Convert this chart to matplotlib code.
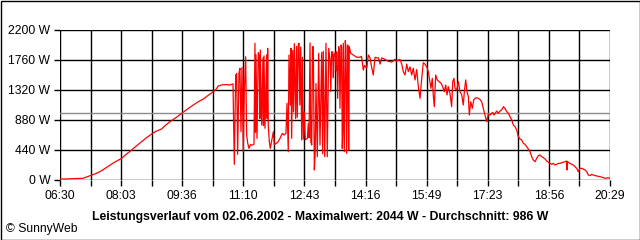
import numpy as np
import matplotlib
matplotlib.use("Agg")
import matplotlib.pyplot as plt
from matplotlib.patches import Rectangle

plt.rcParams["font.family"] = ["Liberation Sans", "DejaVu Sans"]

# time in minutes since midnight, power in W
minutes = [
    390.0, 397.6, 405.3, 412.9, 425.1, 435.8, 443.4, 451.0, 458.6, 466.3,
    473.9, 484.1, 490.7, 499.4, 505.9, 514.6, 521.2, 529.9, 536.4, 545.1,
    551.7, 557.8, 567.0, 575.6, 583.7, 593.3, 600.5, 608.6, 615.8, 623.9,
    628.0, 631.5, 637.1, 643.2, 649.3, 653.9,
    655.9, 658.0, 659.5, 661.0, 663.0, 664.5, 666.1, 667.6, 669.6, 671.1,
    673.2, 674.7, 676.3, 678.3, 680.6, 682.9, 685.9, 687.4, 688.2, 689.0, 690.5,
    692.5, 694.0, 694.8, 695.5, 697.7, 699.6, 700.4, 701.2, 702.7, 705.3, 706.0,
    706.8, 707.7,
    709.3, 710.8, 712.9, 715.4, 716.9, 719.0, 722.1, 725.6, 729.1, 731.7,
    734.7, 736.3, 738.2, 739.3, 741.3, 742.4, 743.4, 745.0, 746.2, 747.4,
    749.5, 750.8, 752.0, 753.4, 754.6, 755.8, 757.2, 758.7, 759.9, 761.2,
    762.7, 764.2, 765.7, 767.3, 768.8, 769.9, 771.4, 772.6, 774.0, 775.2,
    776.4, 778.0, 779.3, 780.5, 782.5, 784.6, 786.6, 789.2, 790.7, 791.6,
    793.8, 795.7, 797.7, 799.9, 801.9, 803.1, 804.4, 806.0, 806.9, 808.0,
    809.9, 811.0, 812.1, 813.6, 815.1, 816.1, 817.1, 818.6, 819.6, 820.6,
    821.4, 822.2, 823.7,
    825.2, 826.2, 827.3, 828.9, 829.6, 830.4, 831.3, 833.5, 837.4, 842.6,
    847.6, 849.9,
    852.7, 854.5, 856.0, 857.9, 860.3, 862.9, 865.5, 867.9, 870.5, 873.6,
    875.9, 878.2, 880.8, 885.8, 890.8, 896.0, 901.0, 903.6, 908.7, 911.3,
    913.7, 916.3, 918.9, 921.3, 923.9, 926.5, 929.0, 931.5, 934.1, 936.6,
    939.2, 941.8, 944.2, 946.8, 949.4, 951.8, 954.4, 955.9, 957.9, 959.4,
    961.0, 963.1, 965.5, 968.1, 971.2, 973.8, 976.2, 978.4, 980.4, 982.3,
    984.9, 987.5, 989.1, 991.0, 992.6, 995.2, 997.6, 1000.2, 1002.8, 1005.2,
    1006.8, 1008.9, 1010.9, 1012.9, 1014.4, 1016.5, 1019.0, 1021.1, 1024.2, 1028.1,
    1030.7, 1033.3, 1035.7, 1038.3, 1040.9, 1043.4, 1046.0, 1050.1, 1052.1, 1056.2,
    1058.6, 1061.2, 1063.8, 1066.3, 1068.9, 1071.5, 1073.9, 1076.5, 1079.1, 1081.5,
    1084.1, 1086.7, 1089.1, 1091.7, 1094.3, 1096.8, 1099.3, 1101.9, 1104.4, 1107.0,
    1109.6, 1112.0, 1114.6, 1117.2, 1119.6, 1122.2, 1124.8, 1127.3, 1129.9, 1132.5,
    1134.9, 1137.5, 1140.1, 1142.5, 1145.1, 1147.7, 1150.2, 1152.7, 1155.3, 1160.4,
    1163.0, 1163.4, 1164.2, 1165.4, 1168.0, 1170.6, 1173.0, 1175.6, 1178.2, 1180.7,
    1183.3, 1185.8, 1188.3, 1190.9, 1193.5, 1195.9, 1198.5, 1201.1, 1203.5, 1208.7,
    1213.8, 1218.8, 1221.4, 1226.4, 1229.0,
]
watts = [
    15, 15, 18, 20, 25, 63, 90, 122, 170, 220,
    265, 318, 375, 440, 495, 562, 615, 675, 715, 748,
    810, 855, 915, 978, 1035, 1100, 1145, 1188, 1240, 1295,
    1330, 1379, 1395, 1400, 1393, 1410,
    230, 1540, 1562, 377, 1569, 1638, 708, 1650, 415, 1290,
    1808, 660, 543, 464, 520, 510, 525, 2005, 700, 1838, 611,
    1868, 1808, 900, 1907, 807, 1790, 800, 1820, 758, 1838, 900,
    1931, 807,
    562, 464, 577, 708, 518, 533, 552, 611, 684, 660,
    684, 1125, 415, 1833, 1100, 1931, 611, 1900, 1000, 2000,
    900, 1960, 920, 1980, 2005, 1100, 1950, 587, 1800, 600,
    1000, 590, 600, 610, 831, 620, 2010, 560, 513, 1955,
    1955, 147, 415, 1415, 342, 1858, 513, 1870, 386, 1887,
    342, 2005, 342, 1931, 1760, 1300, 1880, 1880, 1500, 1833,
    1868, 1600, 1880, 1198, 1955, 1900, 1051, 1980, 1950, 464,
    700, 2005, 415,
    2044, 1950, 391, 1980, 1900, 440, 1955, 1858, 1833, 1800,
    1800, 1814,
    1613, 1680, 1660, 1640, 1833, 1790, 1650, 1540, 1800, 1790,
    1790, 1700, 1790, 1770, 1740, 1730, 1770, 1745, 1770, 1700,
    1590, 1540, 1700, 1590, 1660, 1540, 1640, 1467, 1620, 1369,
    1198, 1490, 1720, 1700, 1660, 1590, 1440, 1344, 1490, 1247,
    1075, 1540, 1467, 1443, 1420, 1369, 1296, 1393, 1247, 1369,
    1271, 1075, 1443, 1491, 1344, 1320, 1443, 1296, 1247, 1100,
    1296, 1467, 1296, 1222, 953, 1149, 1051, 1173, 1207, 1198,
    1180, 1149, 1051, 953, 855, 968, 953, 992, 953, 1012,
    978, 1012, 1027, 1075, 1051, 1003, 978, 929, 880, 807,
    782, 733, 636, 601, 587, 538, 523, 489, 455, 415,
    342, 293, 269, 318, 357, 367, 342, 328, 308, 279,
    259, 244, 230, 244, 220, 230, 244, 244, 254, 269,
    279, 147, 270, 259, 244, 230, 220, 195, 171, 122,
    171, 171, 161, 147, 122, 73, 64, 83, 73, 59,
    49, 34, 24, 34, 24,
]

t_start, t_end = 390, 1229           # 06:30 .. 20:29
average_w = 986
max_w = 2044
x_labels = ["06:30", "08:03", "09:36", "11:10", "12:43",
            "14:16", "15:49", "17:23", "18:56", "20:29"]
y_values = [0, 440, 880, 1320, 1760, 2200]
y_labels = ["0 W", "440 W", "880 W", "1320 W", "1760 W", "2200 W"]
title = ("Leistungsverlauf vom 02.06.2002 - Maximalwert: %d W - "
         "Durchschnitt: %d W" % (max_w, average_w))

fig = plt.figure(figsize=(6.4, 2.4), dpi=100)
ax = fig.add_axes([60 / 640, 60 / 240, 550 / 640, 150 / 240])

# grid every half label step in x, at the labels in y
xgrid = np.linspace(t_start, t_end, 2 * len(x_labels) - 1)
for xv in xgrid:
    ax.axvline(xv, color="black", lw=1.0, zorder=1)
for yv in y_values:
    ax.axhline(yv, color="black", lw=1.0, zorder=1)

ax.axhline(average_w, color="#8c8c8c", lw=1.0, zorder=2)
ax.plot(minutes, watts, color="#ff0000", lw=0.9, zorder=3)

ax.set_xlim(t_start, t_end)
ax.set_ylim(0, 2200)
ax.set_xticks(xgrid)
ax.set_xticklabels([x_labels[i // 2] if i % 2 == 0 else "" for i in range(len(xgrid))])
ax.set_yticks(y_values)
ax.set_yticklabels(y_labels)
ax.tick_params(axis="both", length=4, width=1.0, color="black",
               labelsize=8.7, pad=3)
for side in ax.spines.values():
    side.set_visible(False)
ax.patch.set_alpha(0)

fig.text(0.5, 1 - 217 / 240, title, ha="center", va="center",
         fontsize=8.8, fontweight="bold")
fig.text(6 / 640, 1 - 229 / 240, "\u00a9 SunnyWeb", ha="left", va="center",
         fontsize=8.7)
fig.patches.append(Rectangle((0.5 / 640, 0.5 / 240), 639 / 640, 239 / 240,
                             transform=fig.transFigure, fill=False,
                             edgecolor="black", lw=1.0))

fig.savefig("out.png", dpi=100)
